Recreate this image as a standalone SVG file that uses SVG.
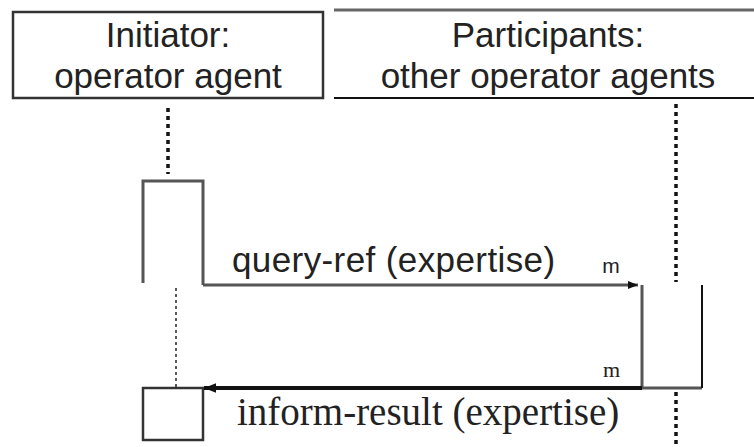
<svg xmlns="http://www.w3.org/2000/svg" width="754" height="447" viewBox="0 0 754 447">
  <style>
    .lbl { font-family: "Liberation Sans", Arial, sans-serif; fill: #222; }
    .mid { text-anchor: middle; }
    .head { font-size: 35px; }
    .serif { font-family: "Liberation Serif", "Times New Roman", serif; fill: #222; }
    .life { stroke: #111; stroke-width: 3.5; stroke-dasharray: 4 4; fill: none; }
    .act { stroke: #555; stroke-width: 3; fill: none; }
    .dark { stroke: #111; stroke-width: 2; fill: none; }
  </style>
  <defs>
    <marker id="arrowR" viewBox="0 0 10 8" refX="10" refY="4" markerWidth="10" markerHeight="8" markerUnits="userSpaceOnUse" orient="auto">
      <path d="M0,0 L10,4 L0,8 Z" fill="#111"/>
    </marker>
    <marker id="arrowL" viewBox="0 0 10 8" refX="10" refY="4" markerWidth="12" markerHeight="10" markerUnits="userSpaceOnUse" orient="auto">
      <path d="M0,0 L10,4 L0,8 Z" fill="#111"/>
    </marker>
  </defs>

  <rect width="754" height="447" fill="#fff"/>

  <!-- Initiator role header -->
  <g id="initiator">
    <rect x="13" y="12" width="310" height="86" fill="none" stroke="#333" stroke-width="2.5"/>
    <text class="lbl mid head" x="168" y="47">Initiator:</text>
    <text class="lbl mid head" x="168" y="88">operator agent</text>
  </g>

  <!-- Participants role header -->
  <g id="participants">
    <line x1="334" y1="10" x2="754" y2="10" stroke="#666" stroke-width="3"/>
    <line x1="334" y1="98" x2="754" y2="98" stroke="#111" stroke-width="2"/>
    <text class="lbl mid head" x="548" y="47">Participants:</text>
    <text class="lbl mid head" x="548" y="88">other operator agents</text>
  </g>

  <!-- Initiator activations -->
  <g id="initiator-activation">
    <path class="act" d="M143,283 L143,181 L203,181 L203,285"/>
    <rect x="143" y="388" width="60" height="52" fill="none" stroke="#333" stroke-width="2.5"/>
  </g>

  <!-- Participant activation -->
  <g id="participant-activation">
    <line class="act" x1="642" y1="285" x2="642" y2="388"/>
    <line class="act" x1="642" y1="388" x2="702" y2="388"/>
    <line class="dark" x1="702" y1="285" x2="702" y2="388"/>
  </g>

  <!-- Lifelines and messages -->
  <g id="connectors">
    <line class="life" x1="168" y1="108" x2="168" y2="174"/>
    <line x1="176" y1="288" x2="176" y2="388" stroke="#222" stroke-width="1.5" stroke-dasharray="3 3"/>
    <line class="life" x1="676" y1="104" x2="676" y2="282"/>
    <line class="life" x1="676" y1="392" x2="676" y2="447"/>

    <line x1="203" y1="285" x2="638" y2="285" stroke="#555" stroke-width="3" marker-end="url(#arrowR)"/>
    <line x1="642" y1="388" x2="204" y2="388" stroke="#111" stroke-width="4" marker-end="url(#arrowL)"/>

    <text class="lbl" x="232" y="272" font-size="35" letter-spacing="0.4">query-ref (expertise)</text>
    <text class="lbl mid" x="611" y="273" font-size="21">m</text>
    <text class="serif" x="237" y="425" font-size="39">inform-result (expertise)</text>
    <text class="serif" x="603" y="377" font-size="22">m</text>
  </g>
</svg>
